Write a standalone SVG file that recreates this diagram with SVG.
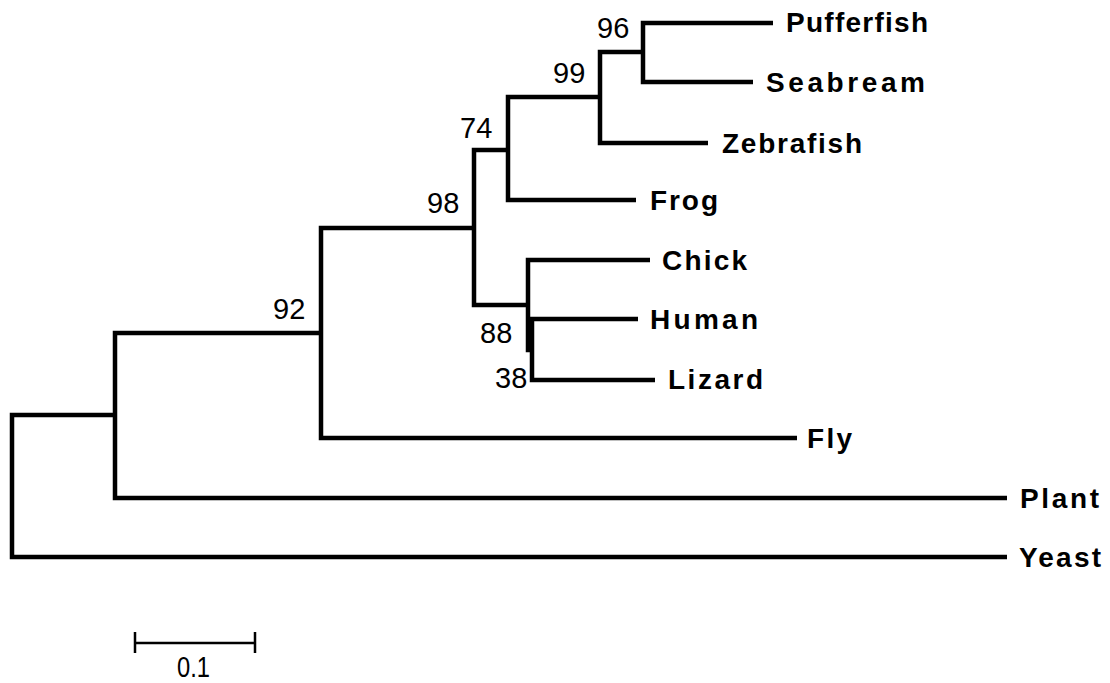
<svg xmlns="http://www.w3.org/2000/svg" width="1110" height="683" viewBox="0 0 1110 683">
<style>
.br{fill:none;stroke:#000;stroke-width:4.5;stroke-linejoin:miter;stroke-linecap:butt}
.sb{fill:none;stroke:#000;stroke-width:2.5}
.tx{font-family:"Liberation Sans",Arial,sans-serif;font-weight:bold;font-size:28px;fill:#000}
.bs{font-family:"Liberation Sans",Arial,sans-serif;font-size:29px;fill:#000}
</style>
<rect width="1110" height="683" fill="#fff"/>
<g id="connectors">
<path class="br" d="M1007,557 H12 V415 H115"/>
<path class="br" d="M1007,498 H115 V333 H321"/>
<path class="br" d="M797,438 H321 V228 H474"/>
<path class="br" d="M528,305 H474 V150 H508"/>
<path class="br" d="M636,200 H508 V97 H600"/>
<path class="br" d="M708,143 H600 V52 H643"/>
<path class="br" d="M773,23 H643 V82 H753"/>
<path class="br" d="M650,260 H528 V350 H532"/>
<path class="br" d="M638,319 H532 V380 H655"/>
</g>
<g id="taxon-pufferfish"><text class="tx" x="786" y="32" textLength="142" lengthAdjust="spacing">Pufferfish</text></g>
<g id="taxon-seabream"><text class="tx" x="766" y="92" textLength="159" lengthAdjust="spacing">Seabream</text></g>
<g id="taxon-zebrafish"><text class="tx" x="722" y="153" textLength="140" lengthAdjust="spacing">Zebrafish</text></g>
<g id="taxon-frog"><text class="tx" x="650" y="210" textLength="68" lengthAdjust="spacing">Frog</text></g>
<g id="taxon-chick"><text class="tx" x="662" y="270" textLength="85" lengthAdjust="spacing">Chick</text></g>
<g id="taxon-human"><text class="tx" x="650" y="329" textLength="108" lengthAdjust="spacing">Human</text></g>
<g id="taxon-lizard"><text class="tx" x="668" y="389" textLength="95" lengthAdjust="spacing">Lizard</text></g>
<g id="taxon-fly"><text class="tx" x="807" y="448" textLength="45" lengthAdjust="spacing">Fly</text></g>
<g id="taxon-plant"><text class="tx" x="1020" y="508" textLength="79" lengthAdjust="spacing">Plant</text></g>
<g id="taxon-yeast"><text class="tx" x="1019" y="567" textLength="82" lengthAdjust="spacing">Yeast</text></g>
<g id="support-96"><text class="bs" x="597" y="38">96</text></g>
<g id="support-99"><text class="bs" x="553" y="83">99</text></g>
<g id="support-74"><text class="bs" x="460" y="138">74</text></g>
<g id="support-98"><text class="bs" x="427" y="213">98</text></g>
<g id="support-92"><text class="bs" x="273" y="319">92</text></g>
<g id="support-88"><text class="bs" x="480" y="343">88</text></g>
<g id="support-38"><text class="bs" x="495" y="388">38</text></g>
<g id="scale-bar">
<path class="sb" d="M135,643 H255 M135,632 V653 M255,632 V653"/>
<text class="bs" x="177" y="677" font-size="27" textLength="33" lengthAdjust="spacingAndGlyphs">0.1</text>
</g>
</svg>
